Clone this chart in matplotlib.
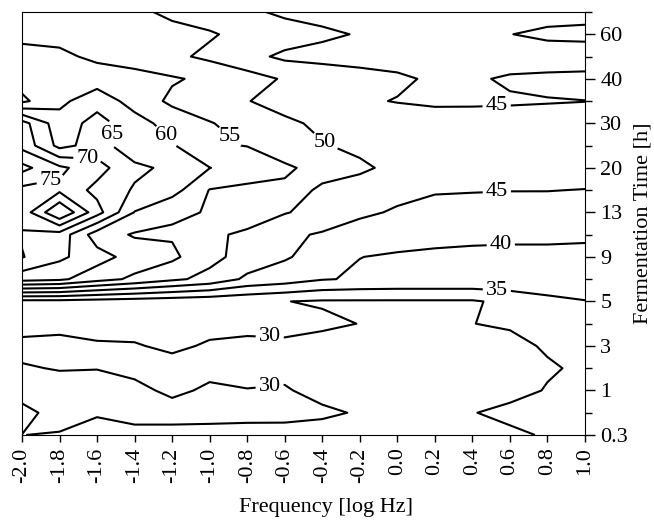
import matplotlib
matplotlib.use("Agg")
import matplotlib.pyplot as plt
import numpy as np

plt.rcParams['font.family'] = ['Liberation Serif', 'DejaVu Serif']
plt.rcParams['axes.unicode_minus'] = False

# frequency axis (log Hz)
freq = [-2.0, -1.8, -1.6, -1.4, -1.2, -1.0, -0.8, -0.6, -0.4, -0.2,
        0.0, 0.2, 0.4, 0.6, 0.8, 1.0]
# fermentation time labels (equally spaced on the axis)
time_labels = ['0.3', '1', '3', '5', '9', '13', '20', '30', '40', '60']
levels = [30, 35, 40, 45, 50, 55, 60, 65, 70, 75, 80]

# measured values, one row per half step of the time axis (bottom -> top)
z_r0 = [30.05, 29.6, 28.0, 29.3, 29.3, 29.4, 29.4, 29.5, 29.5, 29.0, 29.0, 29.0, 29.3, 29.0, 30.5, 31.5]
z_r1 = [28.2, 32.3, 30.5, 30.8, 30.8, 30.6, 30.5, 30.4, 30.2, 29.9, 28.5, 28.5, 29.8, 31.3, 31.5, 32.0]
z_r2 = [32.5, 31.5, 31.5, 30.5, 29.6, 30.3, 30.05, 30.1, 29.65, 29.0, 28.0, 28.0, 28.5, 28.4, 30.3, 32.0]
z_r3 = [30.3, 29.8, 29.9, 29.5, 29.0, 29.5, 29.5, 29.7, 29.2, 28.5, 27.5, 27.5, 28.0, 28.0, 29.5, 30.75]
z_r4 = [29.0, 28.5, 29.7, 29.8, 30.5, 29.7, 29.6, 29.5, 28.0, 28.0, 27.5, 27.5, 28.5, 28.8, 30.5, 31.5]
z_r5 = [31.5, 31.5, 31.0, 31.0, 31.5, 30.8, 30.5, 30.8, 31.0, 29.9, 28.0, 28.0, 29.95, 30.5, 31.5, 33.0]
z_r6 = [33.5, 33.5, 33.0, 32.5, 32.0, 31.5, 31.0, 30.1, 29.5, 29.5, 29.5, 29.5, 29.5, 31.2, 33.5, 34.8]
z_r7 = [62.0, 61.0, 57.0, 54.0, 51.0, 48.5, 44.0, 42.5, 40.3, 39.5, 39.2, 39.2, 39.2, 39.2, 39.0, 38.5]
z_r8 = [70.3, 66.0, 62.0, 58.0, 56.0, 51.5, 48.0, 45.5, 43.0, 40.05, 39.6, 39.5, 39.5, 39.5, 39.5, 39.5]
z_r9 = [69.5, 68.0, 57.4, 54.5, 54.5, 51.0, 49.0, 46.0, 44.5, 42.5, 41.5, 40.8, 40.5, 40.4, 40.4, 40.3]
z_r10 = [72.0, 85.0, 72.0, 59.8, 55.6, 54.8, 53.0, 50.3, 48.3, 46.0, 44.4, 43.8, 43.5, 43.3, 43.2, 43.0]
z_r11 = [73.6, 74.0, 68.5, 64.5, 62.0, 54.8, 54.0, 54.2, 48.5, 48.0, 46.5, 45.3, 45.2, 45.1, 45.1, 44.9]
z_r12 = [81.5, 76.0, 72.0, 66.0, 64.0, 60.1, 57.5, 55.7, 53.5, 50.8, 48.8, 48.0, 47.5, 47.2, 47.0, 47.0]
z_r13 = [73.5, 63.5, 67.0, 62.0, 60.5, 55.5, 54.9, 52.5, 50.3, 49.0, 48.5, 48.0, 47.5, 47.2, 47.0, 47.0]
z_r14 = [72.0, 62.0, 67.0, 62.0, 58.0, 55.3, 53.0, 51.0, 49.0, 48.0, 47.5, 47.0, 46.8, 46.6, 46.5, 46.5]
z_r15 = [54.0, 58.8, 63.0, 58.0, 54.0, 52.0, 50.2, 48.0, 46.5, 45.6, 44.8, 44.3, 44.4, 44.6, 44.8, 44.95]
z_r16 = [57.0, 57.5, 57.5, 57.0, 55.5, 54.0, 52.0, 49.5, 48.0, 47.0, 45.8, 44.3, 44.5, 45.5, 46.0, 46.5]
z_r17 = [57.0, 56.0, 54.0, 52.5, 51.0, 49.0, 46.5, 44.0, 43.5, 43.0, 43.0, 43.0, 43.0, 43.0, 42.5, 42.0]
z_r18 = [53.5, 53.5, 53.0, 52.5, 51.5, 50.5, 48.5, 47.5, 45.8, 44.7, 43.5, 43.5, 44.0, 44.9, 46.0, 46.5]
z_r19 = [53.0, 52.5, 52.0, 51.0, 49.0, 47.5, 46.0, 44.0, 43.5, 43.5, 43.0, 43.0, 43.0, 43.0, 43.0, 43.0]

z = np.array([z_r0, z_r1, z_r2, z_r3, z_r4, z_r5, z_r6, z_r7, z_r8, z_r9,
              z_r10, z_r11, z_r12, z_r13, z_r14, z_r15, z_r16, z_r17, z_r18, z_r19])
rows = np.arange(z.shape[0]) / 2.0  # time axis index, half steps

# where the contour labels sit (data coords)
label_pos = [(-0.68, 2.19), (-0.68, 1.07), (0.53, 3.25), (0.55, 4.43),
             (0.53, 7.28), (0.53, 5.49), (-0.36, 6.76), (-0.88, 6.76),
             (-1.22, 6.76), (-1.47, 6.76), (-1.65, 6.32), (-1.85, 5.76)]

fig = plt.figure(figsize=(6.54, 5.27), dpi=100)
ax = fig.add_axes([0.0336, 0.1746, 0.8609, 0.8026])

cs = ax.contour(freq, rows, z, levels=levels, colors='k', linewidths=1.5)
texts = ax.clabel(cs, manual=label_pos, inline=True, fmt='%d',
                  fontsize=16, inline_spacing=3)
for t in texts:
    t.set_rotation(0)

ax.set_xlim(-2.0, 1.0)
ax.set_ylim(0, 9.5)
ax.set_xticks(freq)
ax.set_xticklabels(['%.1f' % v for v in freq], rotation=90, fontsize=16)
ax.yaxis.tick_right()
ax.yaxis.set_label_position('right')
ax.set_yticks(range(len(time_labels)))
ax.set_yticklabels(time_labels, fontsize=16)
ax.set_yticks(np.arange(0.5, 9.6, 1.0), minor=True)
ax.tick_params(axis='x', direction='out', length=5, width=1, pad=4)
ax.tick_params(axis='y', which='major', direction='out', length=7, width=1, pad=4)
ax.tick_params(axis='y', which='minor', direction='out', length=5, width=1)

ax.set_xlabel('Frequency [log Hz]', fontsize=16)
ax.xaxis.set_label_coords(0.54, -0.15)
ax.set_ylabel('Fermentation Time [h]', fontsize=16, labelpad=4)

fig.savefig('out.png', dpi=100)
